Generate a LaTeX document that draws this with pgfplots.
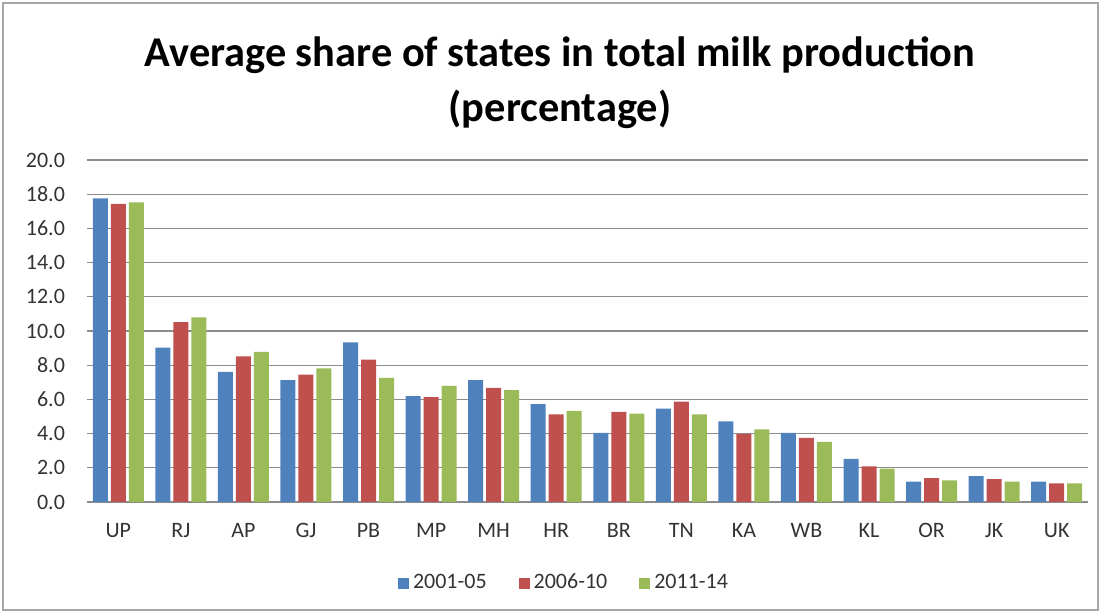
\documentclass[border=0pt]{standalone}
\usepackage{pgfplots}
\pgfplotsset{compat=1.18}
\usepackage{pgfplotstable}
\usepackage{fontspec}
\setmainfont{Carlito}
\definecolor{cblue}{HTML}{4F81BD}
\definecolor{cred}{HTML}{C0504D}
\definecolor{cgreen}{HTML}{9BBB59}
\definecolor{cgrid}{HTML}{8C8C8C}
\pgfplotstableread{
x  a     b     c
0  17.76 17.44 17.52
1  9.03  10.52 10.79
2  7.61  8.51  8.78
3  7.12  7.45  7.82
4  9.33  8.33  7.26
5  6.19  6.13  6.79
6  7.12  6.67  6.54
7  5.72  5.13  5.33
8  4.04  5.27  5.17
9  5.46  5.87  5.13
10 4.72  3.98  4.25
11 4.04  3.75  3.51
12 2.52  2.09  1.95
13 1.19  1.40  1.27
14 1.52  1.33  1.19
15 1.19  1.09  1.09
}\milk
\begin{document}
\begin{tikzpicture}
\useasboundingbox (0,0) rectangle (550.5pt,306.5pt);
\draw[black!35, line width=0.8pt] (1.5pt,1.5pt) rectangle (549pt,305pt);
\node[align=center, font=\bfseries\fontsize{21.2}{27.5}\selectfont] at (280pt,265pt) {Average share of states in total milk production\\(percentage)};
\begin{axis}[
  at={(43.5pt,55.5pt)}, anchor=south west,
  scale only axis, width=500.5pt, height=171pt,
  ybar=1.5pt, bar width=7.5pt,
  xmin=-0.5, xmax=15.5, ymin=0, ymax=20,
  xtick=data,
  xticklabels={UP,RJ,AP,GJ,PB,MP,MH,HR,BR,TN,KA,WB,KL,OR,JK,UK},
  ytick={0,2,...,20},
  major tick length=0pt,
  ymajorgrids, grid style={cgrid, line width=0.6pt},
  axis x line*=bottom, axis y line*=left,
  x axis line style={cgrid, line width=0.6pt, -},
  y axis line style={draw=none},
  ytick style={draw=none}, xtick style={draw=none},
  /pgf/number format/.cd, fixed, fixed zerofill, precision=1, assume math mode=true,
  /pgfplots/.cd,
  tick label style={font=\fontsize{11}{12}\selectfont, text=black!80},
  yticklabel style={xshift=-7.5pt},
  xticklabel style={yshift=-7pt},
  legend style={at={(0.4775,-0.237)}, anchor=center, draw=none, fill=none,
    legend columns=3, font=\fontsize{11}{12}\selectfont, text=black!80,
    /tikz/every even column/.append style={column sep=14pt}},
  legend cell align=left,
  legend image code/.code={\fill[#1] (0pt,-2.75pt) rectangle (5.5pt,2.75pt);},
]
\addplot[fill=cblue, draw=none] table[x=x,y=a]{\milk};
\addplot[fill=cred, draw=none] table[x=x,y=b]{\milk};
\addplot[fill=cgreen, draw=none] table[x=x,y=c]{\milk};
\legend{2001-05,2006-10,2011-14}
\end{axis}
\end{tikzpicture}
\end{document}
